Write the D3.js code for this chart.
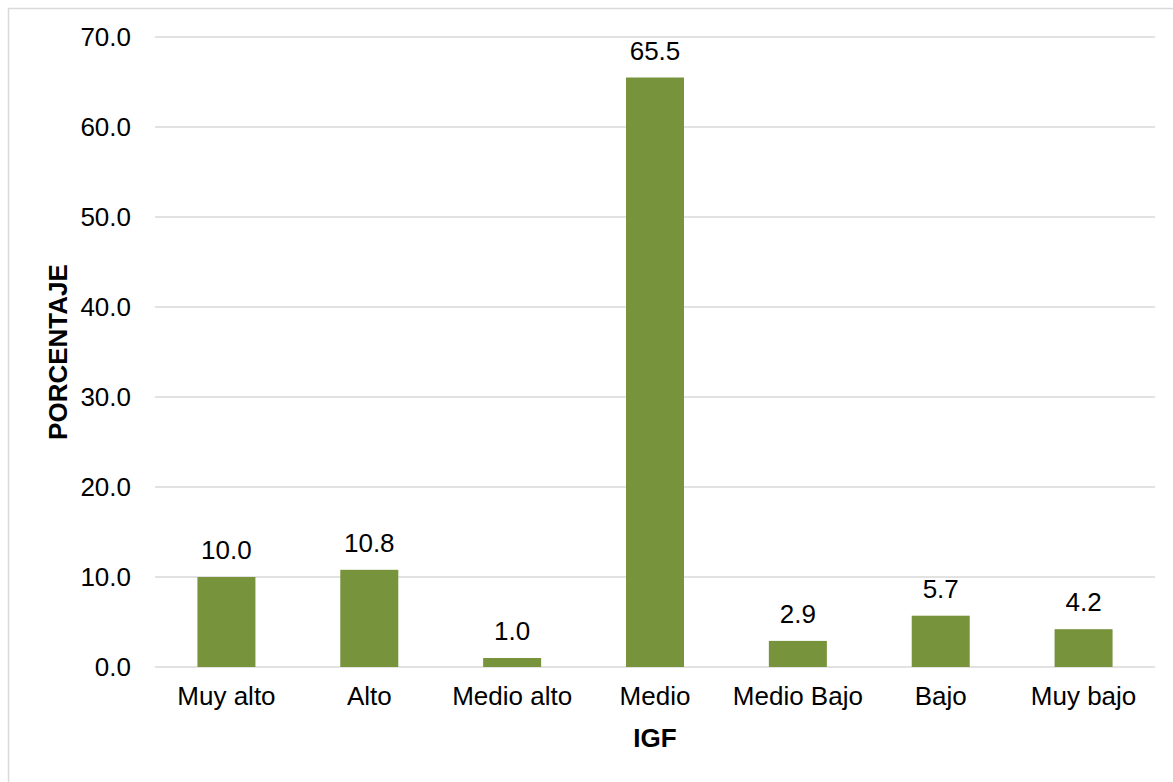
<!DOCTYPE html>
<html>
<head>
<meta charset="utf-8">
<script src="https://cdn.jsdelivr.net/npm/d3@7"></script>
<style>
  html, body { margin: 0; padding: 0; background: #fff; }
  svg { display: block; font-family: "Liberation Sans", Arial, sans-serif; }
</style>
</head>
<body>
<svg id="chart" width="1173" height="782"></svg>
<script>
// IGF levels and their share (%)
const categories = ["Muy alto", "Alto", "Medio alto", "Medio", "Medio Bajo", "Bajo", "Muy bajo"];
const values = [10.0, 10.8, 1.0, 65.5, 2.9, 5.7, 4.2];
const yTicks = [0, 10, 20, 30, 40, 50, 60, 70];
const yTitle = "PORCENTAJE";
const xTitle = "IGF";

const svg = d3.select("#chart");
const W = 1173, H = 782;
const plot = { left: 155, right: 1155, top: 37, bottom: 667 };
const FS = 26;

// Outer frame
svg.append("rect")
  .attr("x", 8.5).attr("y", 8.5)
  .attr("width", W + 10).attr("height", H + 10)
  .attr("fill", "#fff")
  .attr("stroke", "#d9d9d9").attr("stroke-width", 1.5);

const x = d3.scaleBand()
  .domain(categories)
  .range([plot.left, plot.right])
  .paddingInner(0.594)
  .paddingOuter(0.297);

const y = d3.scaleLinear()
  .domain([0, 70])
  .range([plot.bottom, plot.top]);

// Horizontal gridlines
svg.append("g")
  .selectAll("line")
  .data(yTicks)
  .join("line")
  .attr("x1", plot.left).attr("x2", plot.right)
  .attr("y1", d => y(d)).attr("y2", d => y(d))
  .attr("stroke", "#d9d9d9").attr("stroke-width", 1.5);

// Y axis tick labels
const yAxis = d3.axisLeft(y).tickValues(yTicks).tickFormat(d3.format(".1f")).tickSize(0).tickPadding(24);
const gy = svg.append("g").attr("transform", `translate(${plot.left},0)`).call(yAxis);
gy.select(".domain").remove();
gy.selectAll("text").attr("font-size", FS).attr("fill", "#000")
  .attr("font-family", "'Liberation Sans', Arial, sans-serif");

// Bars
svg.append("g")
  .selectAll("rect")
  .data(values)
  .join("rect")
  .attr("x", (d, i) => x(categories[i]))
  .attr("width", x.bandwidth())
  .attr("y", d => y(d))
  .attr("height", d => y(0) - y(d))
  .attr("fill", "#77933c");

// Value labels
svg.append("g")
  .selectAll("text")
  .data(values)
  .join("text")
  .attr("x", (d, i) => x(categories[i]) + x.bandwidth() / 2)
  .attr("y", d => y(d) - 18)
  .attr("text-anchor", "middle")
  .attr("font-size", FS)
  .attr("fill", "#000")
  .text(d => d3.format(".1f")(d));

// X axis category labels
const xAxis = d3.axisBottom(x).tickSize(0).tickPadding(20);
const gx = svg.append("g").attr("transform", `translate(0,${plot.bottom})`).call(xAxis);
gx.select(".domain").remove();
gx.selectAll("text").attr("font-size", FS).attr("fill", "#000")
  .attr("font-family", "'Liberation Sans', Arial, sans-serif");

// Axis titles
svg.append("text")
  .attr("x", (plot.left + plot.right) / 2)
  .attr("y", 747)
  .attr("text-anchor", "middle")
  .attr("font-size", FS).attr("font-weight", "bold")
  .text(xTitle);

svg.append("text")
  .attr("transform", `translate(67,${(plot.top + plot.bottom) / 2}) rotate(-90)`)
  .attr("text-anchor", "middle")
  .attr("font-size", FS).attr("font-weight", "bold")
  .text(yTitle);
</script>
</body>
</html>
